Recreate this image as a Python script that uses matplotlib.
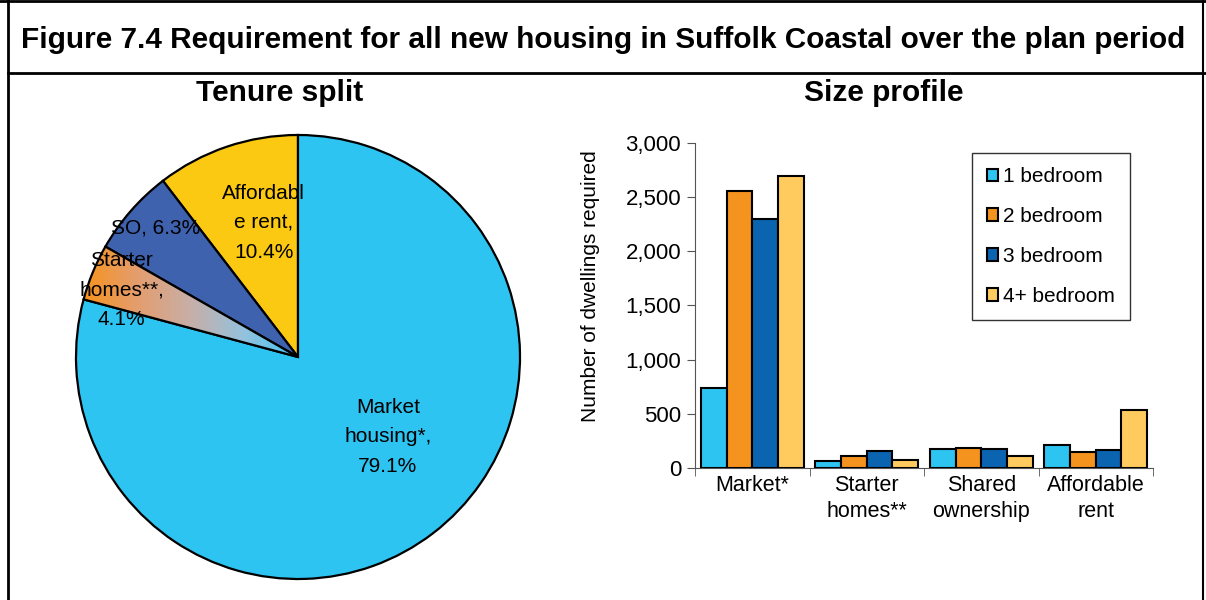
import numpy as np
import matplotlib
matplotlib.use("Agg")
import matplotlib.pyplot as plt
from matplotlib.colors import LinearSegmentedColormap
from matplotlib.lines import Line2D
from matplotlib.patches import Patch

plt.rcParams['font.family'] = ['Liberation Sans', 'DejaVu Sans']

# ── tenure split (pie), drawn anticlockwise from 12 o'clock
tenure_labels = ["Affordabl\ne rent,", "SO,", "Starter\nhomes**,", "Market\nhousing*,"]
tenure_share = [10.4, 6.3, 4.1, 79.1]

# ── size profile (bars)
groups = ["Market*", "Starter\nhomes**", "Shared\nownership", "Affordable\nrent"]
sizes = ["1 bedroom", "2 bedroom", "3 bedroom", "4+ bedroom"]
one_bed = [740, 70, 175, 215]
two_bed = [2555, 115, 190, 147]
three_bed = [2300, 159, 178, 169]
four_bed = [2693, 76, 110, 537]
yticks = [0, 500, 1000, 1500, 2000, 2500, 3000]

bar_cols = ["#2EC4F2", "#F5931F", "#0B64B0", "#FFCB5F"]
pie_cols = ["#FBC812", "#3F62AE", "#F5931F", "#2EC4F2"]

fig = plt.figure(figsize=(12.06, 6.0), dpi=100)

# ── frame and headings
fig.add_artist(Line2D([8/1206, 8/1206], [0, 1], color="black", lw=2))
fig.add_artist(Line2D([1203/1206, 1203/1206], [0, 1], color="black", lw=1.5))
fig.add_artist(Line2D([0, 1], [599/600, 599/600], color="black", lw=2))
fig.add_artist(Line2D([8/1206, 1], [1 - 73/600, 1 - 73/600], color="black", lw=2))
fig.text(603/1206, 1 - 40/600, "Figure 7.4 Requirement for all new housing in Suffolk Coastal over the plan period",
         ha="center", va="center", fontsize=21.4, fontweight="bold")
fig.text(280/1206, 1 - 93/600, "Tenure split", ha="center", va="center", fontsize=21.5, fontweight="bold")
fig.text(884/1206, 1 - 93/600, "Size profile", ha="center", va="center", fontsize=21.5, fontweight="bold")

# ── pie (axes padded a little so the outline isn't clipped)
cx, cy, r, pad = 298, 357, 222, 1.02
ax1 = fig.add_axes([(cx - r*pad)/1206, (600 - cy - r*pad)/600, 2*r*pad/1206, 2*r*pad/600])
wedges, _ = ax1.pie(tenure_share, colors=pie_cols, startangle=90, counterclock=True,
                    radius=1, wedgeprops=dict(edgecolor="black", linewidth=1.6))

# starter homes wedge: orange-to-blue fade
fade = LinearSegmentedColormap.from_list("fade", ["#F7931E", "#E49D6E", "#C7AFA8", "#93C2DE", "#3FC6F2"])
grad = np.linspace(0, 1, 256).reshape(1, -1)
img = ax1.imshow(grad, cmap=fade, extent=(-0.97, 0, -0.2, 0.6), aspect="auto", zorder=1.5)
img.set_clip_path(wedges[2])
wedges[2].set_facecolor("none")
wedges[2].set_zorder(2)
ax1.set_xlim(-pad, pad)
ax1.set_ylim(-pad, pad)
ax1.set_aspect("equal")
ax1.axis("off")

label_pos = [(-0.155, 0.605), (-0.64, 0.58), (-0.795, 0.30), (0.405, -0.36)]
for txt, val, (x, y) in zip(tenure_labels, tenure_share, label_pos):
    s = f"{txt}\n{val}%" if "\n" in txt else f"{txt} {val}%"
    ax1.text(x, y, s, ha="center", va="center", fontsize=15, linespacing=1.7, zorder=5)

# ── bars
ax2 = fig.add_axes([695/1206, 1 - 468.3/600, 458/1206, 325.6/600])
x = np.arange(len(groups))
w = 0.2247
for i, (vals, col, name) in enumerate(zip([one_bed, two_bed, three_bed, four_bed], bar_cols, sizes)):
    ax2.bar(x + (i - 1.5)*w, vals, w, color=col, edgecolor="black", linewidth=1.5, label=name, zorder=3)

ax2.set_xlim(-0.5, len(groups) - 0.5)
ax2.set_ylim(0, 3000)
ax2.set_yticks(yticks)
ax2.set_yticklabels([f"{v:,}" for v in yticks])
ax2.set_xticks(x)
ax2.set_xticklabels(groups, fontsize=15.5, linespacing=1.3)
ax2.tick_params(axis="x", length=0, pad=5)
ax2.set_xticks(np.arange(len(groups) + 1) - 0.5, minor=True)
ax2.tick_params(axis="x", which="minor", length=6, color="#555555")
ax2.tick_params(axis="y", labelsize=16, length=6, color="#555555", pad=4)
for s in ["top", "right"]:
    ax2.spines[s].set_visible(False)
for s in ["left", "bottom"]:
    ax2.spines[s].set_color("#555555")
ax2.set_ylabel("Number of dwellings required", fontsize=15)
ax2.yaxis.set_label_coords(-0.207, 0.558)

handles = [Patch(facecolor=c, edgecolor="black", linewidth=1.5) for c in bar_cols]
leg = ax2.legend(handles, sizes, loc="upper left", bbox_to_anchor=(277/458, 1 - 10/325.6),
                 fontsize=15, frameon=True, fancybox=False, edgecolor="black",
                 handlelength=0.55, handleheight=0.55, handletextpad=0.25,
                 labelspacing=1.0, borderpad=0.7, borderaxespad=0)
leg.get_frame().set_linewidth(1.0)

fig.savefig("out.png", dpi=100)
